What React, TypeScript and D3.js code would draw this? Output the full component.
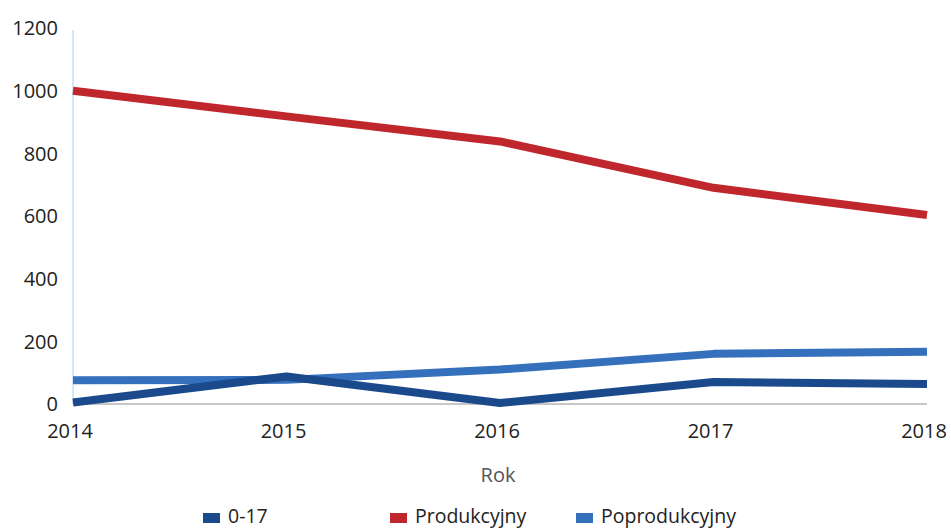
import React from "react";
import * as d3 from "d3";

const years = [2014, 2015, 2016, 2017, 2018];
const seriesNames = ["0-17", "Produkcyjny", "Poprodukcyjny"];
const values017 = [5, 88, 3, 70, 64];
const valuesProd = [1000, 918, 838, 690, 603];
const valuesPoprod = [76, 77, 110, 160, 167];
const yTicks = [0, 200, 400, 600, 800, 1000, 1200];
const colors = ["#1a4a8c", "#c0272d", "#3570bd"];

const W = 951;
const H = 529;
const left = 73;
const right = 927;
const top = 28;
const bottom = 404;

export default function App() {
  const x = d3.scaleLinear().domain([2014, 2018]).range([left, right]);
  const y = d3.scaleLinear().domain([0, 1200]).range([bottom, top]);
  const line = d3
    .line<[number, number]>()
    .x((d) => x(d[0]))
    .y((d) => y(d[1]))
    .curve(d3.curveLinear);
  const all = [values017, valuesProd, valuesPoprod];
  const drawOrder = [1, 2, 0];
  const legendX = [203, 390, 576];
  const font = "'Open Sans', 'Noto Sans', sans-serif";
  return (
    <svg
      width={W}
      height={H}
      style={{ position: "absolute", left: 0, top: 0, background: "#fff" }}
      fontFamily={font}
    >
      <line x1={left} x2={left} y1={y(1200) + 2} y2={bottom} stroke="#a9d3ef" strokeWidth={1} />
      <line x1={left} x2={right} y1={bottom} y2={bottom} stroke="#b5b5b5" strokeWidth={1.5} />
      {yTicks.map((t) => (
        <text key={t} x={58} y={y(t)} dy="0.36em" textAnchor="end" fontSize={20} fill="#222">
          {t}
        </text>
      ))}
      {years.map((yr) => (
        <text key={yr} x={x(yr) - 3} y={438} textAnchor="middle" fontSize={20} fill="#222">
          {yr}
        </text>
      ))}
      <text x={498} y={482} textAnchor="middle" fontSize={20} fill="#555">
        Rok
      </text>
      {drawOrder.map((i) => (
        <path
          key={i}
          d={line(years.map((yr, j) => [yr, all[i][j]] as [number, number])) || ""}
          fill="none"
          stroke={colors[i]}
          strokeWidth={8}
          strokeLinejoin="round"
        />
      ))}
      {seriesNames.map((n, i) => (
        <g key={n}>
          <rect x={legendX[i]} y={513} width={17} height={10} fill={colors[i]} />
          <text x={legendX[i] + 25} y={523} fontSize={19.5} fill="#222">
            {n}
          </text>
        </g>
      ))}
    </svg>
  );
}
